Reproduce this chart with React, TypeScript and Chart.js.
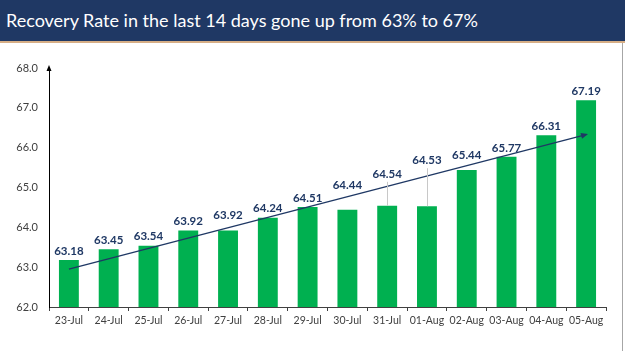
import React, { useEffect, useRef } from "react";
import { Chart, registerables } from "chart.js";

Chart.register(...registerables);

// ---- data ----
const titleText = "Recovery Rate in the last 14 days gone up from 63% to 67%";
const categories = [
  "23-Jul", "24-Jul", "25-Jul", "26-Jul", "27-Jul", "28-Jul", "29-Jul",
  "30-Jul", "31-Jul", "01-Aug", "02-Aug", "03-Aug", "04-Aug", "05-Aug",
];
const recoveryRate = [
  63.18, 63.45, 63.54, 63.92, 63.92, 64.24, 64.51,
  64.44, 64.54, 64.53, 65.44, 65.77, 66.31, 67.19,
];
// trend line end values
const trendValues = [62.95, 66.33];
const yMin = 62;
const yMax = 68;
const yStep = 1;

// ---- styles ----
const NAVY = "#1F3864";
const GREEN = "#00B050";
const AXIS = "#404040";
const FONT = "Lato, 'Open Sans', sans-serif";
const labelBaseOffset = 9;
const labelLift = [0, 0, 0, 0, 6, 0, 0, 16, 23, 37, 6, 0, 0, 0];
const labelLeader = [false, false, false, false, false, false, false, false, true, true, false, false, false, false];

const overlayPlugin = {
  id: "overlay",
  afterDatasetsDraw(chart: any) {
    const ctx = chart.ctx;
    const area = chart.chartArea;
    // y axis arrow head
    ctx.save();
    ctx.fillStyle = "#000";
    ctx.beginPath();
    ctx.moveTo(area.left, area.top - 3);
    ctx.lineTo(area.left - 2.5, area.top + 3);
    ctx.lineTo(area.left + 2.5, area.top + 3);
    ctx.closePath();
    ctx.fill();
    ctx.restore();

    // trend arrow head
    const lineMeta = chart.getDatasetMeta(1);
    const pts = lineMeta.data;
    if (pts.length >= 2) {
      const a = pts[0];
      const b = pts[pts.length - 1];
      const ang = Math.atan2(b.y - a.y, b.x - a.x);
      const len = 7;
      const hw = 3;
      ctx.save();
      ctx.fillStyle = NAVY;
      ctx.translate(b.x, b.y);
      ctx.rotate(ang);
      ctx.beginPath();
      ctx.moveTo(2, 0);
      ctx.lineTo(2 - len, -hw);
      ctx.lineTo(2 - len, hw);
      ctx.closePath();
      ctx.fill();
      ctx.restore();
    }

    // data labels
    const barMeta = chart.getDatasetMeta(0);
    ctx.save();
    ctx.font = `bold 11.5px ${FONT}`;
    ctx.textAlign = "center";
    ctx.textBaseline = "middle";
    barMeta.data.forEach((el: any, i: number) => {
      const ty = el.y - labelBaseOffset - labelLift[i];
      if (labelLeader[i]) {
        ctx.strokeStyle = "#C8C8C8";
        ctx.lineWidth = 1;
        ctx.beginPath();
        ctx.moveTo(Math.round(el.x) + 0.5, ty + 8);
        ctx.lineTo(Math.round(el.x) + 0.5, el.y);
        ctx.stroke();
      }
      ctx.fillStyle = NAVY;
      ctx.fillText(recoveryRate[i].toFixed(2), el.x, ty);
    });
    ctx.restore();
  },
};

export default function App() {
  const canvasRef = useRef<HTMLCanvasElement | null>(null);

  useEffect(() => {
    if (!canvasRef.current) return;
    const chart = new Chart(canvasRef.current, {
      type: "bar",
      data: {
        labels: categories,
        datasets: [
          {
            type: "bar",
            data: recoveryRate,
            backgroundColor: GREEN,
            barPercentage: 0.5,
            categoryPercentage: 1,
            order: 2,
          } as any,
          {
            type: "line",
            data: [
              { x: categories[0], y: trendValues[0] },
              { x: categories[categories.length - 1], y: trendValues[1] },
            ],
            borderColor: NAVY,
            borderWidth: 1.3,
            pointRadius: 0,
            fill: false,
            order: 1,
          } as any,
        ],
      },
      options: {
        animation: false,
        responsive: true,
        maintainAspectRatio: false,
        layout: { padding: { top: 68, right: 19, bottom: 0, left: 0 } },
        plugins: {
          legend: { display: false },
          tooltip: { enabled: false },
          title: { display: false },
        },
        scales: {
          x: {
            type: "category",
            offset: true,
            grid: {
              display: true,
              drawOnChartArea: false,
              drawTicks: true,
              tickLength: 4,
              color: AXIS,
              offset: true,
            },
            border: { display: true, color: AXIS, width: 1 },
            ticks: {
              color: AXIS,
              font: { family: FONT, size: 10.5 },
              padding: 3,
              maxRotation: 0,
              autoSkip: false,
            },
            afterFit: (s: any) => {
              s.height = 44;
            },
          },
          y: {
            min: yMin,
            max: yMax,
            grid: { display: true, drawOnChartArea: false, drawTicks: false },
            border: { display: true, color: "#000", width: 1 },
            ticks: {
              stepSize: yStep,
              color: AXIS,
              font: { family: FONT, size: 11 },
              padding: 11,
              callback: (v: any) => Number(v).toFixed(1),
            },
            afterFit: (s: any) => {
              s.width = 49;
            },
          },
        },
      },
      plugins: [overlayPlugin],
    });
    return () => chart.destroy();
  }, []);

  return (
    <div
      style={{
        position: "fixed",
        left: 0,
        top: 0,
        width: 625,
        height: 351,
        background: "#fff",
        overflow: "hidden",
      }}
    >
      <div style={{ position: "absolute", left: 0, top: 0, width: 625, height: 351 }}>
        <canvas ref={canvasRef} />
      </div>
      <div
        style={{
          position: "absolute",
          left: 0,
          top: 0,
          width: 625,
          height: 41,
          background: NAVY,
          borderBottom: "2px solid #D6AE86",
          color: "#fff",
          fontFamily: FONT,
          fontSize: 18,
          lineHeight: "41px",
          paddingLeft: 6,
          boxSizing: "content-box",
          whiteSpace: "nowrap",
        }}
      >
        {titleText}
      </div>
      <div
        style={{
          position: "absolute",
          left: 622,
          top: 43,
          width: 1,
          height: 308,
          background: "#A6A6A6",
        }}
      />
    </div>
  );
}
